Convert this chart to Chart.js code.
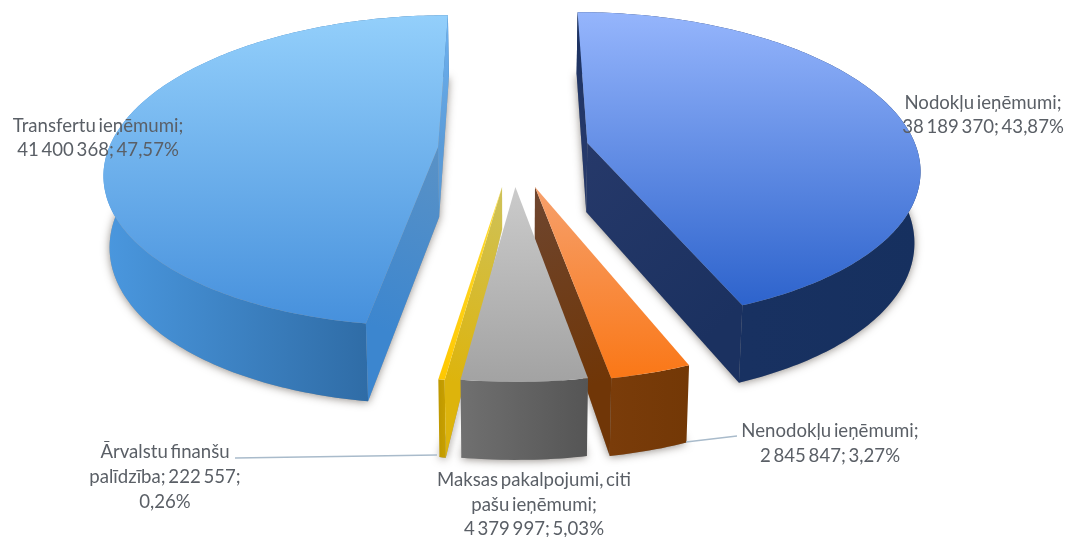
<!DOCTYPE html>
<html><head><meta charset="utf-8">
<script src="https://cdn.jsdelivr.net/npm/chart.js@4"></script>
<style>html,body{margin:0;padding:0;background:#fff}#w{width:1069px;height:537px}canvas{filter:blur(0.5px)}</style>
</head><body><div id="w"><canvas id="c" width="1069" height="537"></canvas></div>
<script>
const categories = ["Nodokļu ieņēmumi","Nenodokļu ieņēmumi","Maksas pakalpojumi, citi pašu ieņēmumi","Ārvalstu finanšu palīdzība","Transfertu ieņēmumi"];
const values = [38189370,2845847,4379997,222557,41400368];
const percents = ["43,87%","3,27%","5,03%","0,26%","47,57%"];
const valueTexts = ["38 189 370","2 845 847","4 379 997","222 557","41 400 368"];

// styling of each wedge
const explodeU = [0.227,0.0643,0.007,-0.032,-0.228];
const explodeV = [0.05,0.33,0.33,0.33,0.0766];
const apexDepth = [69,52,52,42,70];
const drawOrder = [4,0,3,1,2];
const topColors = [["#95B5FC","#2D63CC"],["#F6A06C","#FA7818"],["#CBCBCB","#A3A3A3"],["#FFDD33","#FFC800"],["#93CFFB","#4690DC"]];
const topRange = [[13,306],[187,375],[187,380],[188,380],[16,325]];
const rimColors = [["#1A3263","#16305F"],["#7A3C0A","#733806"],["#707070","#555555"],["#BE9800","#C9A000"],["#4A97DE","#2F6CA6"]];
const rimRange = [null,null,null,null,[107,369]];
const wallColors = [["#26396A","#1B3160"],["#6E4630","#703607"],["#888888","#666666"],["#CEC25A","#DDB40C"],["#5A92C6","#3C86CF"]];
const labelBoxes = [
 {x:983,y:[103,127],t:["Nodokļu ieņēmumi;","38 189 370; 43,87%"]},
 {x:830,y:[431,456],t:["Nenodokļu ieņēmumi;","2 845 847; 3,27%"]},
 {x:534,y:[480,505,529],t:["Maksas pakalpojumi, citi","pašu ieņēmumi;","4 379 997; 5,03%"]},
 {x:165,y:[452,477,502],t:["Ārvalstu finanšu","palīdzība; 222 557;","0,26%"]},
 {x:98,y:[126,150],t:["Transfertu ieņēmumi;","41 400 368; 47,57%"]}
];
const leaders = [[[235,458],[437,455]],[[686,442],[737,436]]];

// perspective of the pie plane
const X0=513,Y0=135.5,SX=325,SY=148.3,P=0.15,SHRINK=0.985;
function proj(u,v){const w=1-P*v;return [X0+SX*u/w,Y0+SY*v/w];}
function rimDepth(a){return 70+8*Math.sin(a);}
function topPt(i,r,a){return proj(explodeU[i]+r*Math.cos(a),explodeV[i]+r*Math.sin(a));}
function botPt(i,r,a){
  const p=topPt(i,r,a);
  const d=apexDepth[i]+r*(rimDepth(a)-apexDepth[i]);
  return [X0+(p[0]-X0)*SHRINK,p[1]+d];
}
function poly(ctx,pts){ctx.beginPath();pts.forEach((p,k)=>k?ctx.lineTo(p[0],p[1]):ctx.moveTo(p[0],p[1]));ctx.closePath();}
function arcAngles(s,e){const n=Math.max(2,Math.ceil((e-s)/(Math.PI/180)));const o=[];for(let k=0;k<=n;k++)o.push(s+(e-s)*k/n);return o;}
function side(a,b,c){return (b[0]-a[0])*(c[1]-a[1])-(b[1]-a[1])*(c[0]-a[0]);}

const pie3d={id:'pie3d',
 beforeDatasetsDraw(chart){
  const ctx=chart.ctx,arcs=chart.getDatasetMeta(0).data;
  const items=arcs.map((el,i)=>{
    const s=el.startAngle,e=el.endAngle,as=arcAngles(s,e);
    return {i,s,e,as,top:as.map(a=>topPt(i,1,a)),bot:as.map(a=>botPt(i,1,a)),c:topPt(i,0,0),cb:botPt(i,0,0)};
  });
  // soft shadow under each wedge
  items.forEach(it=>{
    ctx.save();ctx.shadowColor='rgba(60,50,40,0.55)';ctx.shadowBlur=8;ctx.shadowOffsetY=1;
    ctx.fillStyle='#999';poly(ctx,[it.cb,...it.bot]);ctx.fill();ctx.restore();
  });
  drawOrder.forEach(i=>{
    const it=items[i];
    // rim
    const xs=it.top.map(p=>p[0]).concat(it.bot.map(p=>p[0]));
    const rr=rimRange[i]||[Math.min(...xs),Math.max(...xs)];
    const gr=ctx.createLinearGradient(rr[0],0,rr[1],0);
    gr.addColorStop(0,rimColors[i][0]);gr.addColorStop(1,rimColors[i][1]);
    ctx.fillStyle=gr;poly(ctx,[...it.top,...it.bot.slice().reverse()]);ctx.fill();
    // visible cut walls
    const mid=it.as[Math.floor(it.as.length/2)];const inner=topPt(i,0.9,mid);
    [[it.top[0],it.bot[0]],[it.top[it.top.length-1],it.bot[it.bot.length-1]]].forEach((pr,k)=>{
      const t=pr[0],b=pr[1];
      const chk=side(it.c,t,inner)*side(it.c,t,b);
      if(chk<0){
        const g=ctx.createLinearGradient(it.c[0],it.c[1],t[0],t[1]);
        const backWall=(i===4&&k===1);
        g.addColorStop(0,backWall?"#5A9BD8":wallColors[i][0]);
        g.addColorStop(1,backWall?"#6FB2F0":wallColors[i][1]);
        ctx.fillStyle=g;poly(ctx,[it.c,t,b,it.cb]);ctx.fill();
      }
    });
    // top face
    const tg=ctx.createLinearGradient(0,topRange[i][0],0,topRange[i][1]);
    tg.addColorStop(0,topColors[i][0]);tg.addColorStop(1,topColors[i][1]);
    ctx.fillStyle=tg;poly(ctx,[it.c,...it.top]);ctx.fill();
  });
  return false;
 },
 afterDraw(chart){
  const ctx=chart.ctx;ctx.save();
  ctx.strokeStyle='#A9BBCB';ctx.lineWidth=1.5;
  leaders.forEach(l=>{ctx.beginPath();l.forEach((p,k)=>k?ctx.lineTo(p[0],p[1]):ctx.moveTo(p[0],p[1]));ctx.stroke();});
  ctx.fillStyle='#5A5F66';ctx.font='18.6px Lato';ctx.wordSpacing='-2px';ctx.textAlign='center';ctx.textBaseline='middle';
  labelBoxes.forEach(b=>b.t.forEach((s,k)=>ctx.fillText(s,b.x,b.y[k])));
  ctx.restore();
 }
};

new Chart(document.getElementById('c'),{
 type:'pie',
 data:{labels:categories,datasets:[{data:values,backgroundColor:topColors.map(c=>c[1]),borderWidth:0}]},
 options:{responsive:false,animation:false,rotation:0,plugins:{legend:{display:false},tooltip:{enabled:false}},layout:{padding:0}},
 plugins:[pie3d]
});
</script></body></html>
